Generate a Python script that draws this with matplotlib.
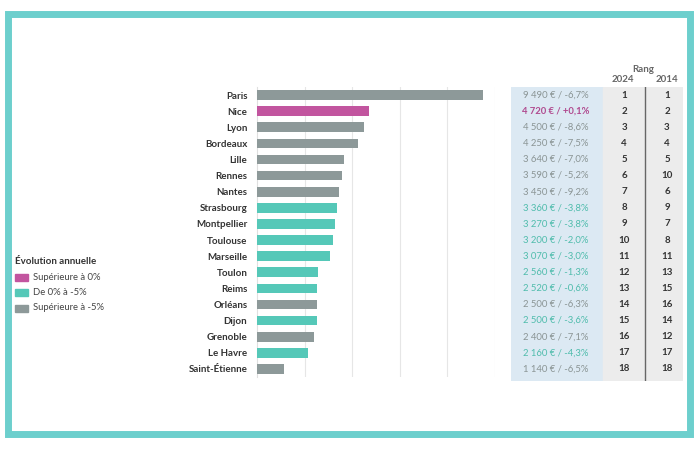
import numpy as np
import matplotlib.pyplot as plt
from matplotlib.patches import Rectangle

plt.rcParams["font.family"] = ["Lato", "DejaVu Sans"]

# ---------------------------------------------------------------------------
# Data
# ---------------------------------------------------------------------------
cities = ["Paris", "Nice", "Lyon", "Bordeaux", "Lille", "Rennes", "Nantes",
          "Strasbourg", "Montpellier", "Toulouse", "Marseille", "Toulon",
          "Reims", "Orléans", "Dijon", "Grenoble", "Le Havre", "Saint-Étienne"]
prix = [9490, 4720, 4500, 4250, 3640, 3590, 3450, 3360, 3270, 3200, 3070,
        2560, 2520, 2500, 2500, 2400, 2160, 1140]
evolution = [-6.7, 0.1, -8.6, -7.5, -7.0, -5.2, -9.2, -3.8, -3.8, -2.0, -3.0,
             -1.3, -0.6, -6.3, -3.6, -7.1, -4.3, -6.5]
rang_2024 = list(range(1, 19))
rang_2014 = [1, 2, 3, 4, 5, 10, 6, 9, 7, 8, 11, 13, 15, 16, 14, 12, 17, 18]

legend_labels = ["Supérieure à 0%", "De 0% à -5%", "Supérieure à -5%"]

PINK = "#c2559f"
TEAL = "#55c8b8"
GREY = "#8d9999"
TXT_PINK = "#b04a8f"
TXT_TEAL = "#4fbcac"
TXT_GREY = "#8a9494"
BORDER = "#6dcfcd"


def bar_color(e):
    if e > 0:
        return PINK
    if e >= -5:
        return TEAL
    return GREY


def text_color(e):
    if e > 0:
        return TXT_PINK
    if e >= -5:
        return TXT_TEAL
    return TXT_GREY


def fmt_prix(p):
    return f"{p:,}".replace(",", " ") + " €"


def fmt_evol(e):
    return f"{e:+.1f}".replace(".", ",") + "%"


W, H = 700, 450
fig = plt.figure(figsize=(7, 4.5), dpi=100)


def px_box(x0, y0, x1, y1):
    # pixel box (top-left origin) -> figure fraction [left, bottom, width, height]
    return [x0 / W, 1 - y1 / H, (x1 - x0) / W, (y1 - y0) / H]


n = len(cities)
ypos = np.arange(n)

# ---------------------------------------------------------------------------
# Bars
# ---------------------------------------------------------------------------
ax = fig.add_axes(px_box(257, 87, 495, 377))
ax.barh(ypos, prix, height=0.6, color=[bar_color(e) for e in evolution], zorder=3)
ax.set_xlim(0, 10000)
ax.set_ylim(n - 0.5, -0.5)
ax.set_xticks([2000, 4000, 6000, 8000, 10000])
ax.set_xticklabels([])
ax.tick_params(axis="x", length=0)
ax.grid(axis="x", color="#e6e6e6", linewidth=0.8, zorder=0)
ax.set_yticks(ypos)
ax.set_yticklabels(cities, fontsize=7, fontweight="bold", color="#333333")
ax.tick_params(axis="y", length=0, pad=7)
for side in ["top", "right", "bottom"]:
    ax.spines[side].set_visible(False)
ax.spines["left"].set_color("#e0e0e0")
ax.spines["left"].set_linewidth(0.8)

# ---------------------------------------------------------------------------
# Table
# ---------------------------------------------------------------------------
tab = fig.add_axes(px_box(511, 87, 683, 381))
tab.set_xlim(0, 1)
tab.set_ylim(n - 0.5 + 0.25, -0.5)
tab.axis("off")
split = (603 - 511) / 172
sep = (645 - 511) / 172
tab.axvspan(0, split, color="#dce9f3", zorder=0)
tab.axvspan(split, 1, color="#ececec", zorder=0)
tab.axvline(sep, color="#666666", linewidth=1.0, zorder=1)

for i in range(n):
    tab.text((556 - 511) / 172, i, f"{fmt_prix(prix[i])} / {fmt_evol(evolution[i])}",
             ha="center", va="center", fontsize=6.8, color=text_color(evolution[i]),
             fontweight="bold" if evolution[i] > 0 else "normal")
    tab.text((624 - 511) / 172, i, str(rang_2024[i]), ha="center", va="center",
             fontsize=7, fontweight="bold", color="#333333")
    tab.text((667 - 511) / 172, i, str(rang_2014[i]), ha="center", va="center",
             fontsize=7, fontweight="bold", color="#333333")

fig.text(643 / W, 1 - 69 / H, "Rang", ha="center", va="center",
         fontsize=7, fontweight="bold", color="#666666")
fig.text(623 / W, 1 - 80 / H, "2024", ha="center", va="center",
         fontsize=7, fontweight="bold", color="#666666")
fig.text(667 / W, 1 - 80 / H, "2014", ha="center", va="center",
         fontsize=7, fontweight="bold", color="#666666")

# ---------------------------------------------------------------------------
# Legend
# ---------------------------------------------------------------------------
fig.text(15 / W, 1 - 262 / H, "Évolution annuelle", ha="left", va="center",
         fontsize=7, fontweight="bold", color="#333333")
for k, (lab, col) in enumerate(zip(legend_labels, [PINK, TEAL, GREY])):
    yc = 277 + k * 15.5
    fig.add_artist(Rectangle((15 / W, 1 - (yc + 3.5) / H), 13 / W, 7 / H,
                             transform=fig.transFigure, color=col))
    fig.text(33 / W, 1 - yc / H, lab, ha="left", va="center",
             fontsize=6.8, color="#444444")

# ---------------------------------------------------------------------------
# Frame
# ---------------------------------------------------------------------------
fig.add_artist(Rectangle((7.5 / W, 1 - 434 / H), 682 / W, 420.5 / H,
                         transform=fig.transFigure, fill=False,
                         edgecolor=BORDER, linewidth=5))

plt.savefig("out.png", dpi=100)
